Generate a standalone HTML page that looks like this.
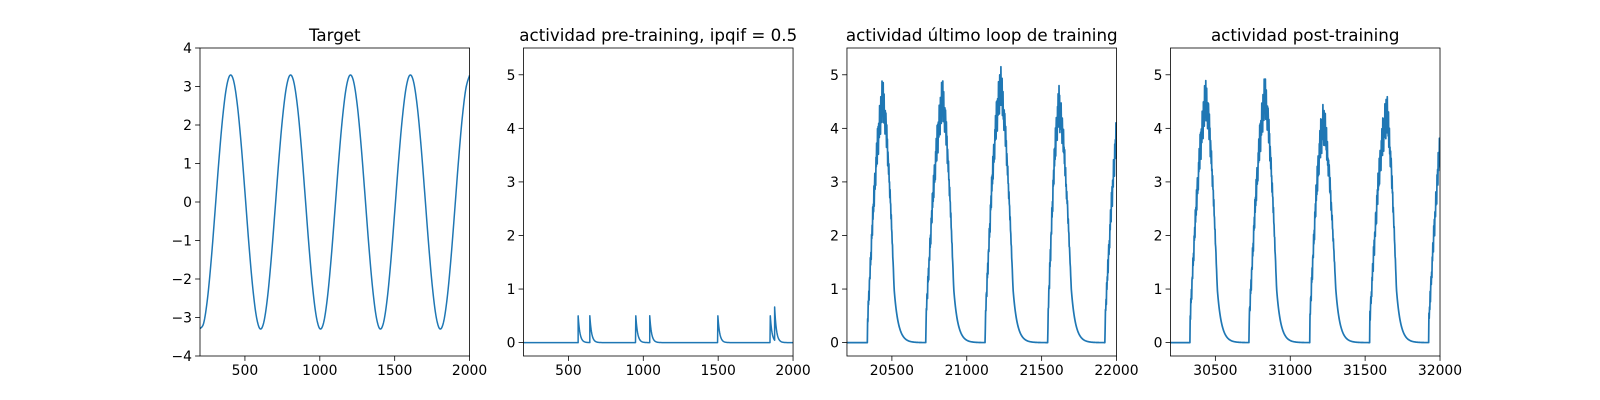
<!DOCTYPE html>
<html><head><meta charset="utf-8"><style>
html,body{margin:0;padding:0;background:#fff;}
svg{display:block;font-family:"DejaVu Sans","Liberation Sans",sans-serif;}
</style></head><body>
<svg id="fig" width="1600" height="400" viewBox="0 0 1600 400"></svg>
<script>
// ---- data ----
const targetX0 = 200, targetStep = 25;
const targetValues = [-3.29,-3.14,-2.51,-1.50,-0.26,1.02,2.14,2.94,3.29,3.14,2.51,1.50,0.26,-1.02,-2.14,-2.94,
 -3.29,-3.14,-2.51,-1.50,-0.26,1.02,2.14,2.94,3.29,3.14,2.51,1.50,0.26,-1.02,-2.14,-2.94,
 -3.29,-3.14,-2.51,-1.50,-0.26,1.02,2.14,2.94,3.29,3.14,2.51,1.50,0.26,-1.02,-2.14,-2.94,
 -3.29,-3.14,-2.51,-1.50,-0.26,1.02,2.14,2.94,3.29,3.14,2.51,1.50,0.26,-1.02,-2.14,-2.94,
 -3.29,-3.14,-2.51,-1.50,-0.26,1.02,2.14,2.94,3.29];
const preSpikeTimes = [565,643,950,1043,1498,1848,1877];
const preSpikeHeights = [0.5,0.5,0.5,0.5,0.5,0.5,0.62];
const lastOnsets = [20338,20727,21124,21542,21924];
const lastPeakT = [20438,20838,21224,21615,22030];
const lastPeakV = [4.5,4.5,4.75,4.4,4.5];
const lastFallT = [20515,20913,21309,21698,22200];
const postOnsets = [30331,30726,31131,31531,31926];
const postPeakT = [30437,30831,31219,31642,32040];
const postPeakV = [4.5,4.55,4.1,4.25,4.5];
const postFallT = [30513,30909,31304,31709,32200];
const jitter = [0.3,-0.8,0.9,-0.2,0.6,-1,0.4,0.1,-0.6,0.8,-0.4,0.2,-0.9,0.7,-0.1,0.5,-0.7,1,-0.3,0.4,-0.5,0.9,-0.8,0.2,0.7,-0.6,0.1,-0.9,0.5,-0.3,0.8];
const xTicks1 = [500,1000,1500,2000];
const yTicks1 = [-4,-3,-2,-1,0,1,2,3,4];
const yTicksAct = [0,1,2,3,4,5];
const xTicks3 = [20500,21000,21500,22000];
const xTicks4 = [30500,31000,31500,32000];

const NS = "http://www.w3.org/2000/svg";
const svg = document.getElementById('fig');
function mk(tag, attrs, parent){const e=document.createElementNS(NS,tag);for(const k in attrs)e.setAttribute(k,attrs[k]);(parent||svg).appendChild(e);return e;}
const AXW = 269.57, GAP = 53.91, TOP = 48, BOT = 356;
function fmt(v){return v<0?'\u2212'+Math.abs(v):String(v);}

function panel(i, title, xmin, xmax, ymin, ymax, xt, yt, pts, name, sw){
  const L = 200 + i*(AXW+GAP), R = L+AXW;
  const sx = v => L + (v-xmin)/(xmax-xmin)*AXW;
  const sy = v => BOT - (v-ymin)/(ymax-ymin)*(BOT-TOP);
  const g = mk('g',{});
  
  
  const cid='clip'+i;
  const cp=mk('clipPath',{id:cid},g); mk('rect',{x:L,y:TOP,width:AXW,height:BOT-TOP},cp);
  const d = pts.map((p,k)=>(k?'L':'M')+sx(p[0]).toFixed(2)+' '+sy(p[1]).toFixed(2)).join('');
  const line = mk('path',{d:d,fill:'none',stroke:'#1f77b4','stroke-width':sw||1.5,'stroke-linejoin':'round','clip-path':'url(#'+cid+')'},g);
  
  
  const frame = mk('rect',{x:L,y:TOP,width:AXW,height:BOT-TOP,fill:'none',stroke:'#000','stroke-width':0.8},g);
  
  
  xt.forEach(v=>{const x=sx(v);mk('line',{x1:x,y1:BOT,x2:x,y2:BOT+4.9,stroke:'#000','stroke-width':0.8},g);
    const t=mk('text',{x:x,y:BOT+19,'text-anchor':'middle','font-size':13.9,fill:'#000'},g);t.textContent=fmt(v);
    
    });
  yt.forEach(v=>{const y=sy(v);mk('line',{x1:L,y1:y,x2:L-4.9,y2:y,stroke:'#000','stroke-width':0.8},g);
    const t=mk('text',{x:L-8,y:y+5,'text-anchor':'end','font-size':13.9,fill:'#000'},g);t.textContent=fmt(v);
    
    });
  const tt=mk('text',{x:L+AXW/2,y:TOP-7,'text-anchor':'middle','font-size':16.7,fill:'#000'},g);tt.textContent=title;
  
  
}

const tPts = targetValues.map((v,k)=>[targetX0+k*targetStep, v]);
function smooth(p){const o=[];for(let k=0;k<p.length-1;k++){const p0=p[Math.max(k-1,0)],p1=p[k],p2=p[k+1],p3=p[Math.min(k+2,p.length-1)];
 for(let s=0;s<8;s++){const t=s/8,t2=t*t,t3=t2*t;
  const f=(a,b,c,d)=>0.5*((2*b)+(-a+c)*t+(2*a-5*b+4*c-d)*t2+(-a+3*b-3*c+d)*t3);
  o.push([f(p0[0],p1[0],p2[0],p3[0]),f(p0[1],p1[1],p2[1],p3[1])]);}}
 o.push(p[p.length-1]);return o;}

function spikes(xmin,xmax){const o=[];for(let t=xmin;t<=xmax;t+=2){let v=0;
  preSpikeTimes.forEach((s,k)=>{if(t>=s)v+=preSpikeHeights[k]*Math.exp(-(t-s)/12);});
  const s=preSpikeTimes.find(s=>t<s&&t+2>s); if(s!==undefined){o.push([t,v]);const k=preSpikeTimes.indexOf(s);
    let v0=0;preSpikeTimes.forEach((q,j)=>{if(q<s)v0+=preSpikeHeights[j]*Math.exp(-(s-q)/12);});o.push([s,v0]);o.push([s,v0+preSpikeHeights[k]]);continue;}
  o.push([t,v]);}return o;}

function activity(xmin,xmax,on,pt,pv,ft){const o=[];let j=0;
  for(let t=xmin;t<=xmax;t+=2){let v=0;
    for(let b=0;b<on.length;b++){
      if(t<on[b])continue;
      if(t<pt[b]){const f=(t-on[b])/(pt[b]-on[b]);const a=0.15+0.3*f;
        v=0.4+(pv[b]-0.4)*Math.sin(f*Math.PI/2)*0.7+(pv[b]-0.4)*0.3*f+a*jitter[(j++)%jitter.length];}
      else if(t<ft[b]){const f=(t-pt[b])/(ft[b]-pt[b]);v=pv[b]+(1.0-pv[b])*Math.pow(f,1.6)+0.45*(1-f)*jitter[(j++)%jitter.length];}
      else {v=Math.max(v,1.0*Math.exp(-(t-ft[b])/28));}
    }
    o.push([t,Math.max(0,v)]);}
  return o;}

panel(0,'Target',200,2000,-4,4,xTicks1,yTicks1,smooth(tPts),'target-panel');
panel(1,'actividad pre-training, ipqif = 0.5',200,2000,-0.25,5.5,xTicks1,yTicksAct,spikes(200,2000),'pre-training-panel');
panel(2,'actividad último loop de training',20200,22000,-0.25,5.5,xTicks3,yTicksAct,activity(20200,22000,lastOnsets,lastPeakT,lastPeakV,lastFallT),'last-loop-panel',1.7);
panel(3,'actividad post-training',30200,32000,-0.25,5.5,xTicks4,yTicksAct,activity(30200,32000,postOnsets,postPeakT,postPeakV,postFallT),'post-training-panel',1.7);
</script>
</body></html>
